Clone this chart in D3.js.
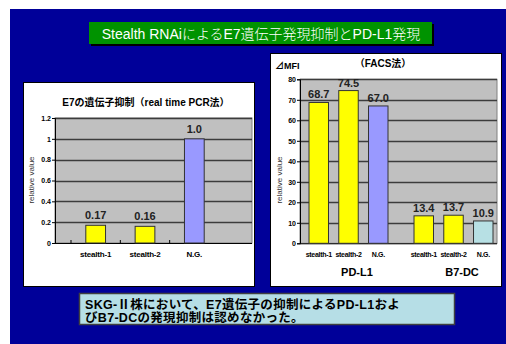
<!DOCTYPE html>
<html>
<head>
<meta charset="utf-8">
<script src="https://cdn.jsdelivr.net/npm/d3@7"></script>
<style>
  html, body { margin: 0; padding: 0; background: #fff; }
  svg { display: block; }
  text { font-family: "Liberation Sans", Arial, "Noto Sans CJK JP", sans-serif; }
</style>
</head>
<body>
<script>
// E7 knockdown measured by real time PCR
const e7Categories = ["stealth-1", "stealth-2", "N.G."];
const e7Values = [0.17, 0.16, 1.0];
const e7Labels = ["0.17", "0.16", "1.0"];
const e7Ticks = [0, 0.2, 0.4, 0.6, 0.8, 1, 1.2];

// ΔMFI measured by FACS
const facsGroups = ["PD-L1", "B7-DC"];
const facsCategories = ["stealth-1", "stealth-2", "N.G."];
const pdl1Values = [68.7, 74.5, 67.0];
const b7dcValues = [13.4, 13.7, 10.9];
const facsTicks = [0, 10, 20, 30, 40, 50, 60, 70, 80];

const pageTitle = "Stealth RNAiによるE7遺伝子発現抑制とPD-L1発現";
const e7Title = "E7の遺伝子抑制（real time PCR法）";
const facsTitle = "（FACS法）";
const facsUnit = "⊿MFI";
const yTitle = "relative value";
const conclusion = [
  "SKG-Ⅱ株において、E7遺伝子の抑制によるPD-L1およ",
  "びB7-DCの発現抑制は認めなかった。"
];

const colors = {
  bg: "#000099",
  titleBox: "#009300",
  plot: "#c0c0c0",
  grid: "#3c3c3c",
  stealth: "#ffff00",
  ngPurple: "#9999ff",
  ngCyan: "#b7e0e4",
  note: "#b6dee6"
};

const svg = d3.select("body").append("svg")
  .attr("width", 506).attr("height", 344);

// slide background
svg.append("rect").attr("x", 10).attr("y", 9).attr("width", 496).attr("height", 335)
  .attr("fill", colors.bg);

// heading box with drop shadow
svg.append("rect").attr("x", 91).attr("y", 24).attr("width", 343).attr("height", 22).attr("fill", "#000");
svg.append("rect").attr("x", 89).attr("y", 22).attr("width", 343).attr("height", 22).attr("fill", colors.titleBox);
svg.append("text").attr("x", 261).attr("y", 38.5).attr("text-anchor", "middle")
  .attr("fill", "#fff").attr("font-size", 14).attr("font-weight", 300).text(pageTitle);

// chart panels
svg.append("rect").attr("x", 23.5).attr("y", 82.5).attr("width", 231).attr("height", 204)
  .attr("fill", "#fff").attr("stroke", "#000");
svg.append("rect").attr("x", 270.5).attr("y", 53.5).attr("width", 231).attr("height", 233)
  .attr("fill", "#fff").attr("stroke", "#000");

function plotFrame(y, ticks, x0, x1, fmt) {
  const [yb, yt] = y.range();
  svg.append("rect").attr("x", x0).attr("y", yt).attr("width", x1 - x0).attr("height", yb - yt)
    .attr("fill", colors.plot).attr("stroke", "#808080");
  svg.append("g").selectAll("line").data(ticks.filter(t => t > 0)).join("line")
    .attr("x1", x0).attr("x2", x1)
    .attr("y1", d => Math.round(y(d)) + 0.5).attr("y2", d => Math.round(y(d)) + 0.5)
    .attr("stroke", colors.grid).attr("stroke-width", 1.4);
  const ax = svg.append("g").attr("transform", `translate(${x0},0)`)
    .call(d3.axisLeft(y).tickValues(ticks).tickFormat(fmt).tickSize(3).tickPadding(1));
  ax.select(".domain").attr("stroke", "#000");
  ax.selectAll("text").attr("font-size", 7).attr("font-weight", "bold").attr("fill", "#000");
  svg.append("line").attr("x1", x0).attr("x2", x1).attr("y1", yb + 0.5).attr("y2", yb + 0.5)
    .attr("stroke", "#000");
}

function yAxisTitle(x, yc) {
  svg.append("text").attr("transform", `translate(${x},${yc}) rotate(-90)`)
    .attr("text-anchor", "middle").attr("font-size", 8).attr("fill", "#333").text(yTitle);
}

// ---- E7 knockdown chart ----
const yL = d3.scaleLinear().domain([0, 1.2]).range([243, 118]);
const xL = d3.scaleBand().domain(e7Categories).range([71, 219]).paddingInner(0.6).paddingOuter(0.3);
plotFrame(yL, e7Ticks, 55, 252, d3.format("~g"));

svg.append("g").selectAll("line").data(e7Categories).join("line")
  .attr("x1", d => xL(d) - xL.step() * xL.paddingInner() / 2)
  .attr("x2", d => xL(d) - xL.step() * xL.paddingInner() / 2)
  .attr("y1", 243).attr("y2", 240).attr("stroke", "#000");

svg.append("g").selectAll("rect").data(e7Values).join("rect")
  .attr("x", (d, i) => xL(e7Categories[i]))
  .attr("y", d => yL(d))
  .attr("width", xL.bandwidth())
  .attr("height", d => yL(0) - yL(d))
  .attr("fill", (d, i) => e7Categories[i] === "N.G." ? colors.ngPurple : colors.stealth)
  .attr("stroke", "#333");

svg.append("g").selectAll("text").data(e7Values).join("text")
  .attr("x", (d, i) => xL(e7Categories[i]) + xL.bandwidth() / 2)
  .attr("y", d => yL(d) - 6)
  .attr("text-anchor", "middle").attr("font-size", 11).attr("font-weight", "bold").attr("fill", "#222")
  .text((d, i) => e7Labels[i]);

svg.append("g").selectAll("text").data(e7Categories).join("text")
  .attr("x", d => xL(d) + xL.bandwidth() / 2).attr("y", 256.5)
  .attr("text-anchor", "middle").attr("font-size", 8).attr("font-weight", "bold").attr("fill", "#000")
  .attr("letter-spacing", -0.2)
  .text(d => d);

svg.append("text").attr("x", 146).attr("y", 105.5).attr("text-anchor", "middle")
  .attr("font-size", 10).attr("font-weight", "bold").attr("fill", "#000").text(e7Title);
yAxisTitle(33.5, 180);

// ---- FACS chart ----
const yR = d3.scaleLinear().domain([0, 80]).range([243.3, 79.3]);
const xGroup = d3.scaleBand().domain(facsGroups).range([300, 497]).paddingInner(0.124).paddingOuter(0);
const xInner = d3.scaleBand().domain(facsCategories).range([9, 88]).paddingInner(0.345).paddingOuter(0);
plotFrame(yR, facsTicks, 300, 497, d3.format("d"));

const facsRows = [];
facsGroups.forEach((g, gi) => {
  const vals = gi === 0 ? pdl1Values : b7dcValues;
  facsCategories.forEach((c, ci) => facsRows.push({ group: g, cat: c, value: vals[ci] }));
});

const barX = d => xGroup(d.group) + xInner(d.cat);
svg.append("g").selectAll("rect").data(facsRows).join("rect")
  .attr("x", barX)
  .attr("y", d => yR(d.value))
  .attr("width", xInner.bandwidth())
  .attr("height", d => yR(0) - yR(d.value))
  .attr("fill", d => d.cat !== "N.G." ? colors.stealth : (d.group === "PD-L1" ? colors.ngPurple : colors.ngCyan))
  .attr("stroke", "#333");

svg.append("g").selectAll("text").data(facsRows).join("text")
  .attr("x", d => barX(d) + xInner.bandwidth() / 2)
  .attr("y", d => yR(d.value) - 4)
  .attr("text-anchor", "middle").attr("font-size", 11).attr("font-weight", "bold").attr("fill", "#222")
  .text(d => d.value.toFixed(1));

svg.append("g").selectAll("text").data(facsRows).join("text")
  .attr("x", d => barX(d) + xInner.bandwidth() / 2).attr("y", 256.5)
  .attr("text-anchor", "middle").attr("font-size", 7).attr("font-weight", "bold").attr("fill", "#000")
  .attr("letter-spacing", -0.3)
  .text(d => d.cat);

svg.append("g").selectAll("text").data(facsGroups).join("text")
  .attr("x", d => xGroup(d) + xGroup.bandwidth() / 2 + 11).attr("y", 276)
  .attr("text-anchor", "middle").attr("font-size", 11).attr("font-weight", "bold").attr("fill", "#000")
  .text(d => d);

svg.append("text").attr("x", 383).attr("y", 66.5).attr("text-anchor", "middle")
  .attr("font-size", 10).attr("font-weight", "bold").attr("fill", "#000").text(facsTitle);
svg.append("text").attr("x", 275).attr("y", 68.5)
  .attr("font-size", 9).attr("font-weight", "bold").attr("fill", "#000").text(facsUnit);
yAxisTitle(281.5, 180);

// ---- conclusion box ----
svg.append("rect").attr("x", 79.5).attr("y", 293.5).attr("width", 375).attr("height", 31)
  .attr("fill", colors.note).attr("stroke", "#404040").attr("stroke-width", 1.5);
svg.append("g").selectAll("text").data(conclusion).join("text")
  .attr("x", 85).attr("y", (d, i) => 308.5 + i * 13.5)
  .attr("font-size", 12.5).attr("font-weight", "bold").attr("letter-spacing", 0.3).attr("fill", "#000")
  .text(d => d);
</script>
</body>
</html>
